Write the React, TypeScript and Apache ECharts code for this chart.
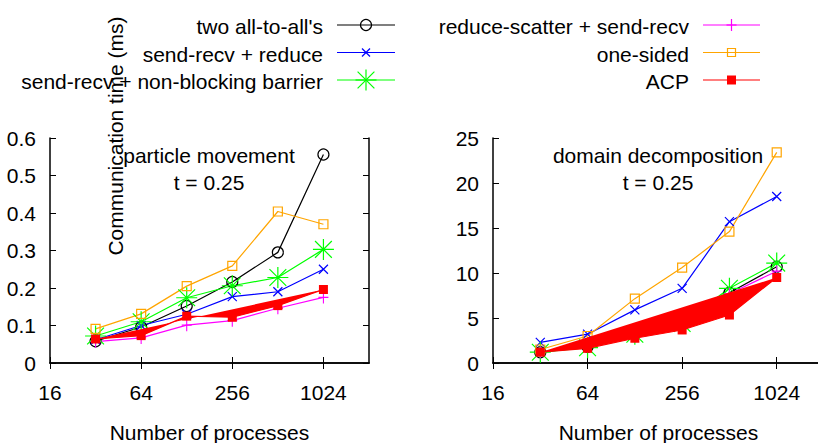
import React, { useEffect, useRef } from 'react';
import * as echarts from 'echarts';

// ---------- data ----------
const procs = [32, 64, 128, 256, 512, 1024];
const xTickValues = [16, 64, 256, 1024];

const names = [
  "two all-to-all's",
  'send-recv + reduce',
  'send-recv + non-blocking barrier',
  'reduce-scatter + send-recv',
  'one-sided',
  'ACP',
];

// particle movement, t = 0.25 (ms)
const pmTwoAllToAll = [0.058, 0.096, 0.152, 0.216, 0.295, 0.556];
const pmSendRecvReduce = [0.062, 0.1, 0.13, 0.177, 0.19, 0.25];
const pmSendRecvBarrier = [0.072, 0.11, 0.174, 0.206, 0.228, 0.303];
const pmReduceScatter = [0.057, 0.067, 0.101, 0.113, 0.146, 0.175];
const pmOneSided = [0.091, 0.131, 0.205, 0.259, 0.404, 0.37];
const pmACP = [0.064, 0.073, 0.125, 0.122, 0.153, 0.196];

// domain decomposition, t = 0.25 (ms)
const ddTwoAllToAll = [1.2, 1.8, 3.5, 5.0, 7.8, 10.7];
const ddSendRecvReduce = [2.3, 3.2, 5.9, 8.3, 15.7, 18.5];
const ddSendRecvBarrier = [1.2, 1.7, 3.2, 4.4, 8.3, 11.1];
const ddReduceScatter = [1.2, 2.0, 3.2, 4.5, 7.7, 10.2];
const ddOneSided = [1.5, 3.0, 7.15, 10.6, 14.6, 23.4];
const ddACP = [1.2, 1.63, 2.75, 3.67, 5.33, 9.5];

// ---------- styles ----------
const FONT = 'Liberation Sans, Arial, Helvetica, sans-serif';
const FS = 21;
const colors = ['#000000', '#0000ff', '#00ff00', '#ff00ff', '#ffa500', '#ff0000'];
const X_PATH = 'path://M0,0L10,10M10,0L0,10';
const PLUS_PATH = 'path://M5,0L5,10M0,5L10,5';
const STAR_PATH = 'path://M5,0L5,10M0,5L10,5M1,1L9,9M9,1L1,9';
const symbols: any[] = ['circle', X_PATH, STAR_PATH, PLUS_PATH, 'rect', 'rect'];
const symbolSizes: any[] = [11, 9, 21, [10, 12], 9, 9];

function lineSeries(idx: number, values: number[], xi: number, yi: number) {
  const c = colors[idx];
  const filled = idx === 5;
  return {
    type: 'line',
    name: names[idx],
    xAxisIndex: xi,
    yAxisIndex: yi,
    data: procs.map((p, i) => [p, values[i]]),
    symbol: symbols[idx],
    symbolSize: symbolSizes[idx],
    showSymbol: true,
    z: filled ? 5 : 2,
    lineStyle: { color: c, width: 1.2 },
    itemStyle: {
      color: filled ? c : 'rgba(0,0,0,0)',
      borderColor: c,
      borderWidth: filled ? 0 : 1.2,
    },
    emphasis: { disabled: true },
  };
}

function polygonSeries(values: number[], xi: number, yi: number) {
  return {
    type: 'custom',
    xAxisIndex: xi,
    yAxisIndex: yi,
    z: 4,
    data: [[procs[0], values[0]]],
    renderItem: (params: any, api: any) => {
      const pts = procs.map((p, i) => api.coord([p, values[i]]));
      return { type: 'polygon', shape: { points: pts }, style: { fill: colors[5] } };
    },
    silent: true,
  };
}

function xAxes(grid: number) {
  const base = {
    type: 'log',
    logBase: 2,
    min: 16,
    max: 2048,
    gridIndex: grid,
    splitLine: { show: false },
    axisLine: { show: true, lineStyle: { color: '#000', width: 1.5 } },
    axisTick: { show: true, inside: true, length: 6, customValues: xTickValues, lineStyle: { color: '#000', width: 1 } },
  };
  return [
    {
      ...base,
      position: 'bottom',
      name: 'Number of processes',
      nameLocation: 'middle',
      nameGap: 59,
      nameTextStyle: { fontSize: FS, fontFamily: FONT, color: '#000' },
      axisLabel: {
        show: true,
        customValues: xTickValues,
        margin: 19,
        fontSize: FS,
        fontFamily: FONT,
        color: '#000',
        formatter: (v: number) => String(Math.round(v)),
      },
    },
    { ...base, position: 'top', axisLabel: { show: false } },
  ];
}

function yAxes(grid: number, max: number, interval: number) {
  const base = {
    type: 'value',
    min: 0,
    max,
    interval,
    gridIndex: grid,
    splitLine: { show: false },
    axisLine: { show: true, lineStyle: { color: '#000', width: 1.5 } },
    axisTick: { show: true, inside: true, length: 6, lineStyle: { color: '#000', width: 1 } },
  };
  return [
    { ...base, position: 'left', axisLabel: { show: true, margin: 14, fontSize: FS, fontFamily: FONT, color: '#000' } },
    { ...base, position: 'right', axisLabel: { show: false } },
  ];
}

function legendMarker(idx: number, cx: number, cy: number): any[] {
  const c = colors[idx];
  const ln = (x1: number, y1: number, x2: number, y2: number) => ({
    type: 'line',
    shape: { x1, y1, x2, y2 },
    style: { stroke: c, lineWidth: 1.2 },
  });
  switch (idx) {
    case 0:
      return [{ type: 'circle', shape: { cx, cy, r: 5.5 }, style: { fill: 'none', stroke: c, lineWidth: 1.2 } }];
    case 1:
      return [ln(cx - 4, cy - 4, cx + 4, cy + 4), ln(cx + 4, cy - 4, cx - 4, cy + 4)];
    case 2:
      return [
        ln(cx - 10.5, cy, cx + 10.5, cy),
        ln(cx, cy - 10.5, cx, cy + 10.5),
        ln(cx - 8.4, cy - 8.4, cx + 8.4, cy + 8.4),
        ln(cx + 8.4, cy - 8.4, cx - 8.4, cy + 8.4),
      ];
    case 3:
      return [ln(cx - 5, cy, cx + 5, cy), ln(cx, cy - 6, cx, cy + 6)];
    case 4:
      return [{ type: 'rect', shape: { x: cx - 4, y: cy - 4, width: 8, height: 8 }, style: { fill: 'none', stroke: c, lineWidth: 1.2 } }];
    default:
      return [{ type: 'rect', shape: { x: cx - 4.5, y: cy - 4.5, width: 9, height: 9 }, style: { fill: c } }];
  }
}

function legendGraphics(): any[] {
  const out: any[] = [];
  const rows = [25, 52.5, 80];
  names.forEach((n, idx) => {
    const col = idx < 3 ? 0 : 1;
    const y = rows[idx % 3];
    const textRight = col === 0 ? 323 : 689;
    const lx1 = col === 0 ? 337 : 703;
    const lx2 = col === 0 ? 395 : 760;
    const mx = (lx1 + lx2) / 2;
    out.push({
      type: 'text',
      x: textRight,
      y: y + 1.5,
      style: { text: n, align: 'right', verticalAlign: 'middle', fontSize: FS, fontFamily: FONT, fill: '#000' },
    });
    out.push({ type: 'line', shape: { x1: lx1, y1: y, x2: lx2, y2: y }, style: { stroke: colors[idx], lineWidth: 1.2 } });
    legendMarker(idx, mx, y).forEach((m) => out.push(m));
  });
  return out;
}

function textAt(text: string, x: number, y: number, extra: any = {}) {
  return {
    type: 'text',
    x,
    y,
    ...extra,
    style: { text, align: 'center', verticalAlign: 'middle', fontSize: FS, fontFamily: FONT, fill: '#000' },
  };
}

export default function App() {
  const ref = useRef<HTMLDivElement>(null);
  useEffect(() => {
    if (!ref.current) return;
    const chart = echarts.init(ref.current, undefined, { renderer: 'svg' });
    const pm = [pmTwoAllToAll, pmSendRecvReduce, pmSendRecvBarrier, pmReduceScatter, pmOneSided, pmACP];
    const dd = [ddTwoAllToAll, ddSendRecvReduce, ddSendRecvBarrier, ddReduceScatter, ddOneSided, ddACP];
    const series: any[] = [];
    pm.forEach((v, i) => {
      if (i === 5) series.push(polygonSeries(v, 0, 0));
      series.push(lineSeries(i, v, 0, 0));
    });
    dd.forEach((v, i) => {
      if (i === 5) series.push(polygonSeries(v, 2, 2));
      series.push(lineSeries(i, v, 2, 2));
    });
    chart.setOption({
      animation: false,
      backgroundColor: '#ffffff',
      grid: [
        { left: 50, top: 138, width: 319, height: 225, outerBoundsMode: 'none', containLabel: false },
        { left: 493, top: 138, width: 331, height: 225, outerBoundsMode: 'none', containLabel: false },
      ],
      xAxis: [...xAxes(0), ...xAxes(1)],
      yAxis: [...yAxes(0, 0.6, 0.1), ...yAxes(1, 25, 5)],
      series,
      graphic: [
        ...legendGraphics(),
        textAt('particle movement', 209, 155),
        textAt('t = 0.25', 209, 182),
        textAt('domain decomposition', 658, 155),
        textAt('t = 0.25', 658, 182),
        textAt('Communication time (ms)', 115, 136, { rotation: Math.PI / 2 }),
      ],
    });
    return () => chart.dispose();
  }, []);
  return <div ref={ref} style={{ position: 'absolute', left: 0, top: 0, width: 818, height: 443 }} />;
}
